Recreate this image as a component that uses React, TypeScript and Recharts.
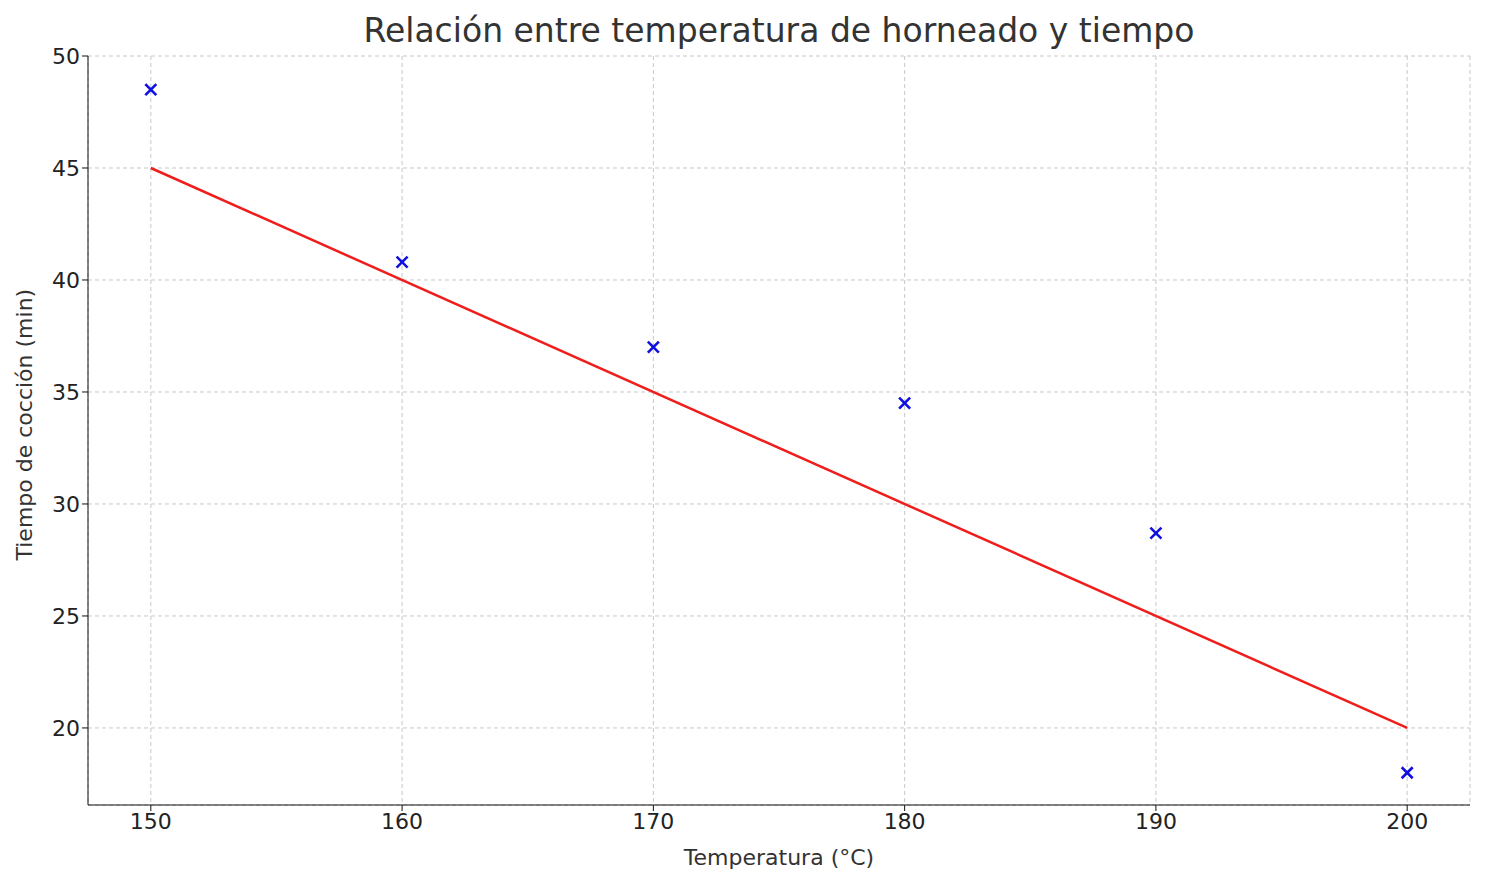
import React from "react";
import { ComposedChart, Scatter, Line, XAxis, YAxis, CartesianGrid } from "recharts";

const temps = [150, 160, 170, 180, 190, 200];
const times = [48.5, 40.8, 37.0, 34.5, 28.7, 18.0];
const fitTemps = [150, 200];
const fitTimes = [45, 20];
const xTicks = [150, 160, 170, 180, 190, 200];
const yTicks = [20, 25, 30, 35, 40, 45, 50];

const pts = temps.map((t, i) => ({ x: t, y: times[i] }));
const fit = fitTemps.map((t, i) => ({ x: t, y: fitTimes[i] }));

const Cross = (p: any) => {
  const { cx, cy } = p;
  const s = 5.5;
  return (
    <g stroke="#1010e0" strokeWidth={2.6}>
      <line x1={cx - s} y1={cy - s} x2={cx + s} y2={cy + s} />
      <line x1={cx - s} y1={cy + s} x2={cx + s} y2={cy - s} />
    </g>
  );
};

const font = "DejaVu Sans, sans-serif";

export default function App() {
  return (
    <div style={{ position: "absolute", left: 0, top: 0, width: 1485, height: 885, background: "#fff", fontFamily: font }}>
      <div style={{ position: "absolute", top: 11, width: 1558, textAlign: "center", fontSize: 33, color: "#333" }}>
        Relación entre temperatura de horneado y tiempo
      </div>
      <ComposedChart width={1485} height={885} margin={{ top: 56, right: 15, bottom: 0, left: 0 }}>
        <CartesianGrid stroke="#c8c8c8" strokeDasharray="4 3" />
        <XAxis type="number" dataKey="x" domain={[147.5, 202.5]} ticks={xTicks} height={80}
          tick={{ fontSize: 22, fill: "#222", fontFamily: font }} tickSize={6} stroke="#111"
          allowDataOverflow
          label={{ value: "Temperatura (°C)", position: "insideBottom", offset: 20, fontSize: 22, fill: "#333", fontFamily: font }} />
        <YAxis type="number" dataKey="y" domain={[16.56, 50]} ticks={yTicks} width={88}
          tick={{ fontSize: 22, fill: "#222", fontFamily: font }} tickSize={6} stroke="#111"
          allowDataOverflow
          label={{ value: "Tiempo de cocción (min)", angle: -90, position: "insideLeft", offset: 24, dy: 130, fontSize: 22, fill: "#333", fontFamily: font }} />
        <Line data={fit} dataKey="y" stroke="#f01d1d" strokeWidth={2.5} dot={false} isAnimationActive={false} />
        <Scatter data={pts} dataKey="y" shape={Cross} isAnimationActive={false} />
      </ComposedChart>
    </div>
  );
}
